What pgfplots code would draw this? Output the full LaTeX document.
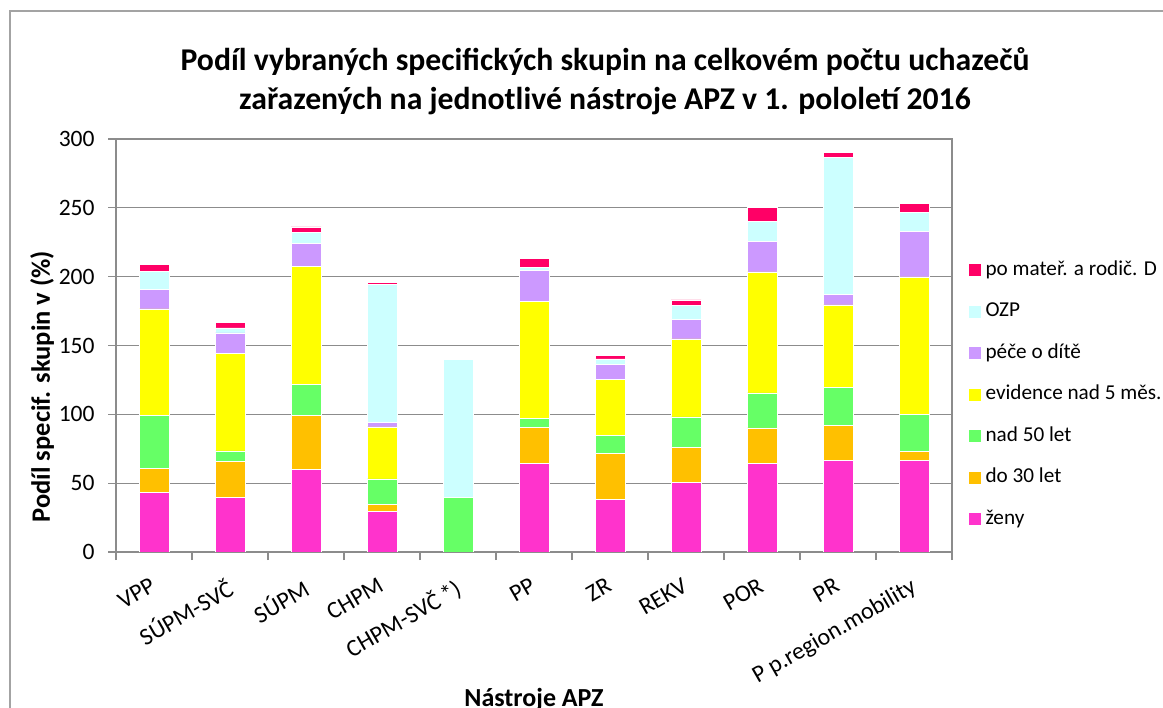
\documentclass[border=0pt]{standalone}
\usepackage{fontspec}
\setmainfont{Carlito}
\usepackage{pgfplots}
\pgfplotsset{compat=1.18}
\definecolor{czeny}{HTML}{FF33CC}
\definecolor{cdo}{HTML}{FFC000}
\definecolor{cnad}{HTML}{66FF66}
\definecolor{cevid}{HTML}{FFFF00}
\definecolor{cpece}{HTML}{CC99FF}
\definecolor{cozp}{HTML}{CCFFFF}
\definecolor{cpo}{HTML}{FF0066}
\definecolor{cgrid}{HTML}{8C8C8C}
\begin{document}
\begin{tikzpicture}
\path[use as bounding box, fill=white] (0bp,0bp) rectangle (1163bp,708bp);
\draw[cgrid!80, line width=1.5bp] (10bp,-5bp) -- (10bp,697bp) -- (1170bp,697bp);
\node[anchor=base, font=\fontsize{31.7bp}{36bp}\selectfont\bfseries] at (605bp,637bp) {Podíl vybraných specifických skupin na celkovém počtu uchazečů};
\node[anchor=base, font=\fontsize{31.7bp}{36bp}\selectfont\bfseries] at (605bp,598bp) {zařazených na jednotlivé nástroje APZ v 1. pololetí 2016};
\begin{axis}[
  at={(116bp,156bp)}, anchor=south west,
  width=836bp, height=413bp, scale only axis,
  ybar stacked, bar width=30bp,
  xmin=-0.5, xmax=10.5, ymin=0, ymax=300,
  ytick={0,50,...,300},
  xtick={0,...,10},
  xticklabels={VPP,SÚPM-SVČ,SÚPM,CHPM,CHPM-SVČ\,*),PP,ZR,REKV,POR,PR,P p.region.mobility},
  minor xtick={-0.5,0.5,...,10.5},
  major x tick style={draw=none},
  tick align=outside, tick pos=left,
  major tick length=8bp, minor tick length=8bp,
  every tick/.style={cgrid, line width=1.3bp},
  axis line style={cgrid, line width=1.3bp},
  ymajorgrids, grid style={cgrid, line width=1.3bp},
  /pgf/number format/assume math mode=true,
  yticklabel style={font=\fontsize{23.5bp}{26bp}\selectfont, xshift=-10bp},
  xticklabel style={font=\fontsize{24bp}{27bp}\selectfont, xshift=-4bp, yshift=-14bp, rotate=30, anchor=north east, inner sep=2bp},
  ylabel={Podíl specif. skupin v (\%)},
  ylabel style={font=\fontsize{26.5bp}{30bp}\selectfont\bfseries, at={(axis description cs:-0.0885,0.4007)}, anchor=center},
  xlabel={Nástroje APZ},
  xlabel style={font=\fontsize{26bp}{30bp}\selectfont\bfseries, at={(axis description cs:0.5,-0.375)}, anchor=base},
  legend reversed,
  legend cell align=left,
  legend style={at={(rel axis cs:1.016,0.7094)}, anchor=north west, draw=none, fill=none,
    font=\fontsize{21.2bp}{24bp}\selectfont, row sep=23.5bp,
    nodes={inner xsep=5bp, inner ysep=0bp, text height=14bp, text depth=4bp}},
  legend image code/.code={\fill[#1, draw=none] (0bp,-6bp) rectangle (12bp,6bp);},
  every axis plot/.append style={draw=white, line width=0.6bp},
]
\addplot[fill=czeny] coordinates {(0,43.2) (1,39.6) (2,59.9) (3,29.5) (4,0) (5,64.3) (6,38.2) (7,50.5) (8,64.3) (9,66.4) (10,66.4)};
\addlegendentry{ženy}
\addplot[fill=cdo] coordinates {(0,17.4) (1,26.3) (2,39.1) (3,5.0) (4,0) (5,26.0) (6,33.3) (7,25.3) (8,25.8) (9,25.6) (10,6.8)};
\addlegendentry{do 30 let}
\addplot[fill=cnad] coordinates {(0,38.9) (1,7.5) (2,23.0) (3,18.6) (4,39.6) (5,6.6) (6,13.3) (7,22.3) (8,25.4) (9,27.3) (10,26.6)};
\addlegendentry{nad 50 let}
\addplot[fill=cevid] coordinates {(0,77.1) (1,71.0) (2,85.5) (3,37.7) (4,0) (5,85.0) (6,40.6) (7,56.7) (8,87.9) (9,60.2) (10,100.0)};
\addlegendentry{evidence nad 5 měs.}
\addplot[fill=cpece] coordinates {(0,14.2) (1,14.8) (2,16.4) (3,3.4) (4,0) (5,22.7) (6,10.8) (7,14.3) (8,22.2) (9,7.5) (10,33.3)};
\addlegendentry{péče o dítě}
\addplot[fill=cozp] coordinates {(0,13.3) (1,3.6) (2,8.0) (3,100.0) (4,100.3) (5,1.9) (6,4.1) (7,10.1) (8,14.3) (9,99.7) (10,13.5)};
\addlegendentry{OZP}
\addplot[fill=cpo] coordinates {(0,4.8) (1,3.9) (2,4.3) (3,1.9) (4,0) (5,6.5) (6,2.5) (7,3.9) (8,10.3) (9,3.4) (10,6.5)};
\addlegendentry{po mateř. a rodič. D}
\end{axis}
\end{tikzpicture}
\end{document}
